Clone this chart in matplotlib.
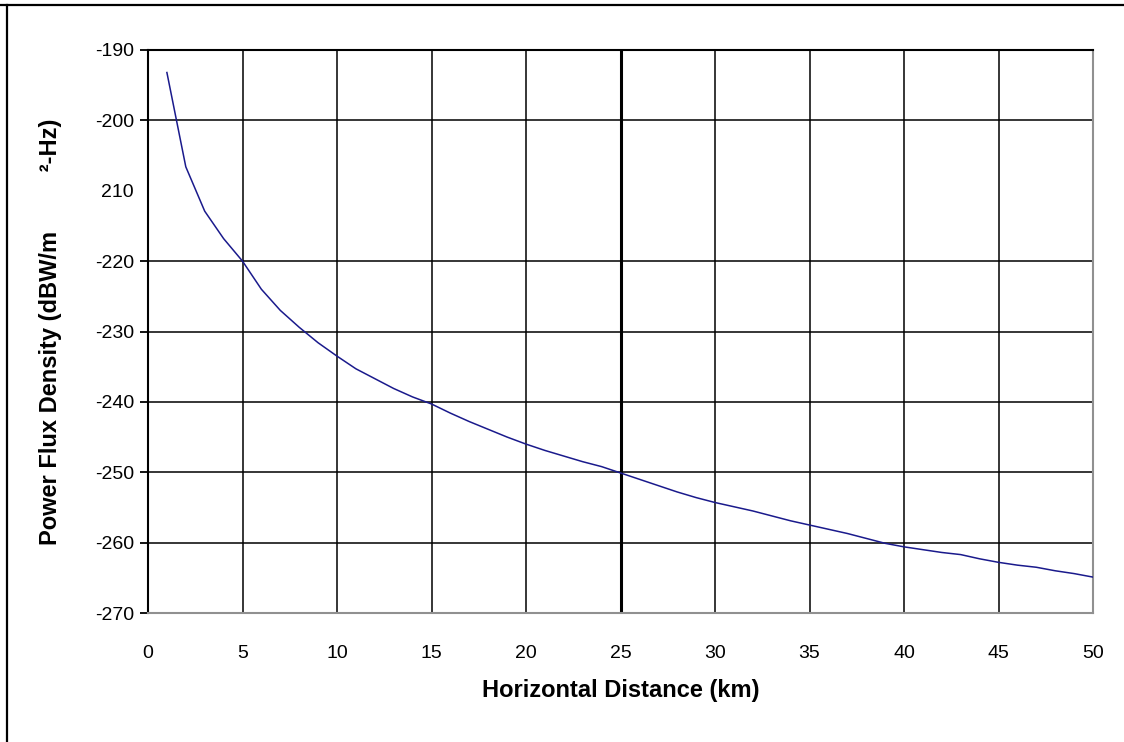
import matplotlib
matplotlib.use("Agg")
import matplotlib.pyplot as plt
from matplotlib.lines import Line2D

# horizontal distance (km) and power flux density
distance_km = list(range(1, 51))
pfd = [-193.2, -206.6, -212.9, -216.8, -220.0, -224.0, -227.0, -229.4, -231.6, -233.5,
       -235.3, -236.7, -238.1, -239.3, -240.3, -241.6, -242.8, -243.9, -245.0, -246.0,
       -246.9, -247.7, -248.5, -249.2, -250.1, -251.0, -251.9, -252.8, -253.6, -254.3,
       -254.9, -255.5, -256.2, -256.9, -257.5, -258.1, -258.7, -259.4, -260.1, -260.6,
       -261.0, -261.4, -261.7, -262.3, -262.8, -263.2, -263.5, -264.0, -264.4, -264.9]

xticks = [0, 5, 10, 15, 20, 25, 30, 35, 40, 45, 50]
yticks = [-190, -200, -220, -230, -240, -250, -260, -270]
ytick_labels = ["-190", "-200", "-220", "-230", "-240", "-250", "-260", "-270"]
# the -210 row has no gridline and its label lost the minus sign
odd_tick = -210
odd_label = "210"

plt.rcParams['font.family'] = ['Liberation Sans', 'DejaVu Sans']

fig = plt.figure(figsize=(11.24, 7.42), dpi=100)
ax = fig.add_axes([148/1124, 1 - 613/742, (1093 - 148)/1124, (613 - 50)/742])

for x in xticks[1:-1]:
    lw = 2.2 if x == 25 else 1.1
    ax.axvline(x, color='black', lw=lw, zorder=1)
for y in yticks[1:-1]:
    ax.axhline(y, color='black', lw=1.1, zorder=1)

ax.plot(distance_km, pfd, color='#1a1a8c', lw=1.1, zorder=3)

ax.set_xlim(0, 50)
ax.set_ylim(-270, -190)
ax.set_xticks(xticks)
ax.set_xticklabels([str(x) for x in xticks])
ax.set_yticks(yticks + [odd_tick])
ax.set_yticklabels(ytick_labels + [odd_label])
ax.tick_params(axis='x', length=0, pad=23, labelsize=14, colors='black')
ax.tick_params(axis='y', length=6, width=1.3, pad=4, labelsize=14, colors='black')
ax.yaxis.get_major_ticks()[-1].tick1line.set_visible(False)

ax.spines['top'].set_color('black')
ax.spines['top'].set_linewidth(1.5)
ax.spines['left'].set_color('black')
ax.spines['left'].set_linewidth(1.5)
ax.spines['bottom'].set_color('#909090')
ax.spines['bottom'].set_linewidth(1.5)
ax.spines['right'].set_color('#909090')
ax.spines['right'].set_linewidth(1.5)

ax.set_xlabel("Horizontal Distance (km)", fontsize=17, fontweight='bold', labelpad=12)
ax.set_ylabel("Power Flux Density (dBW/m         \u00b2-Hz)", fontsize=17, fontweight='bold', labelpad=24)

# outer chart border (top and left edges visible)
fig.add_artist(Line2D([0, 1], [1 - 5/742, 1 - 5/742], color='black', lw=1.6))
fig.add_artist(Line2D([7/1124, 7/1124], [0, 1 - 5/742], color='black', lw=1.6))

fig.savefig("out.png", dpi=100)
